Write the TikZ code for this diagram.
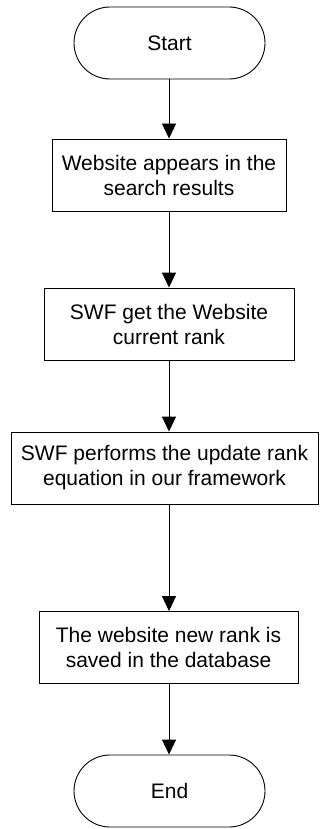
\documentclass[tikz,border=0pt]{standalone}
\usepackage{fontspec}
\setmainfont{Liberation Sans}
\usetikzlibrary{arrows.meta}
\begin{document}
\begin{tikzpicture}[x=1pt,y=-1pt,
  every node/.style={font=\fontsize{21}{25}\selectfont, align=center, inner sep=0pt},
  term/.style={draw, line width=0.9pt, rounded corners=36pt, minimum width=191pt, minimum height=72pt},
  proc/.style={draw, line width=0.9pt, minimum height=72pt},
  conn/.style={draw, line width=0.9pt, -{Triangle[width=14pt,length=15pt]}}]
\useasboundingbox (0,0) rectangle (320,829);
\node[term] (start) at (169.5,43) {Start};
\node[proc, minimum width=234pt] (b1) at (169,175) {Website appears in the\\search results};
\node[proc, minimum width=250pt] (b2) at (169,324) {SWF get the Website\\current rank};
\node[proc, minimum width=307pt] (b3) at (164.5,468) {SWF performs the update rank\\equation in our framework};
\node[proc, minimum width=259pt] (b4) at (168.5,647.5) {The website new rank is\\saved in the database};
\node[term] (end) at (169.5,791) {End};
\draw[conn] (start.south -| 169,0) -- (b1.north -| 169,0);
\draw[conn] (b1) -- (b2);
\draw[conn] (b2.south -| 169,0) -- (b3.north -| 169,0);
\draw[conn] (b3.south -| 169,0) -- (b4.north -| 169,0);
\draw[conn] (b4.south -| 169,0) -- (end.north -| 169,0);
\end{tikzpicture}
\end{document}
